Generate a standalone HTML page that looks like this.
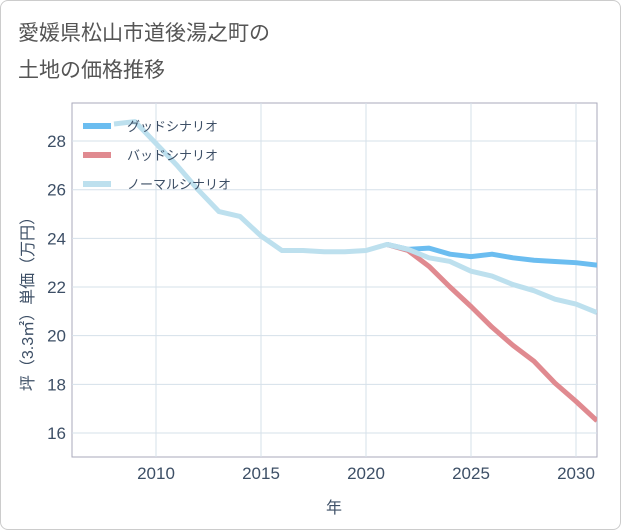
<!DOCTYPE html>
<html><head><meta charset="utf-8"><style>
body{margin:0;background:#fff;font-family:"Liberation Sans","Noto Sans CJK JP",sans-serif}
#wrap{position:relative;width:619px;height:528px;border:1px solid #ccc;border-radius:8px;background:#fff}
</style></head><body>
<div id="wrap">
<svg id="svg" width="621" height="530" style="position:absolute;left:-1px;top:-1px">
<text x="18" y="40" font-size="21" fill="#555">愛媛県松山市道後湯之町の</text>
<text x="18" y="77" font-size="21" fill="#555">土地の価格推移</text>
<g id="plot"></g>
</svg></div>
<script>
const years=[2008,2009,2010,2011,2012,2013,2014,2015,2016,2017,2018,2019,2020,2021,2022,2023,2024,2025,2026,2027,2028,2029,2030,2031];
const normal=[28.7,28.8,27.9,27.0,26.0,25.1,24.9,24.1,23.5,23.5,23.45,23.45,23.5,23.75,23.55,23.2,23.05,22.65,22.45,22.1,21.85,21.5,21.3,20.95];
const goodYears=[2021,2022,2023,2024,2025,2026,2027,2028,2029,2030,2031];
const good=[23.75,23.55,23.6,23.35,23.25,23.35,23.2,23.1,23.05,23.0,22.9];
const bad=[23.75,23.5,22.85,22.0,21.2,20.35,19.6,18.95,18.05,17.3,16.5];
const xTicks=[2010,2015,2020,2025,2030];
const yTicks=[16,18,20,22,24,26,28];
const L=72,R=597,T=103,B=457;
const x=v=>L+(v-2006)*(R-L)/25;
const y=v=>433-(v-16)*24.33;
const NS="http://www.w3.org/2000/svg",g=document.getElementById('plot');
function el(t,a,txt){const e=document.createElementNS(NS,t);for(const k in a)e.setAttribute(k,a[k]);if(txt)e.textContent=txt;g.appendChild(e);return e;}
const frame=el('rect',{x:L,y:T,width:R-L,height:B-T,fill:'#fff',stroke:'#aab','stroke-width':1});

xTicks.forEach(v=>{const l=el('line',{x1:x(v),x2:x(v),y1:T,y2:B,stroke:'#d5e0ea'});
const t=el('text',{x:x(v),y:479,'font-size':17,fill:'#3d4f66','text-anchor':'middle'},String(v));});
yTicks.forEach(v=>{const l=el('line',{x1:L,x2:R,y1:y(v),y2:y(v),stroke:'#d5e0ea'});
const t=el('text',{x:66,y:y(v)+6,'font-size':17,fill:'#3d4f66','text-anchor':'end'},String(v));});
const xt=el('text',{x:334,y:513,'font-size':16,fill:'#3d4f66','text-anchor':'middle'},'年');
const yt=el('text',{x:0,y:0,'font-size':16,fill:'#3d4f66','text-anchor':'middle',transform:'translate(33,300) rotate(-90)'},'坪（3.3㎡）単価（万円）');
const clip=document.createElementNS(NS,'clipPath');clip.id='c';const cr=document.createElementNS(NS,'rect');cr.setAttribute('x',L);cr.setAttribute('y',T);cr.setAttribute('width',R-L);cr.setAttribute('height',B-T);clip.appendChild(cr);g.appendChild(clip);
function line(xs,vs,c,name){const p=el('polyline',{points:xs.map((v,i)=>x(v)+','+y(vs[i])).join(' '),fill:'none',stroke:c,'stroke-width':5,'stroke-linejoin':'round','clip-path':'url(#c)'});}
line(goodYears,bad,'#e08a90','bad-scenario-line');
line(goodYears,good,'#6bbdf0','good-scenario-line');
line(years,normal,'#bde0ee','normal-scenario-line');
[['グッドシナリオ','#6bbdf0'],['バッドシナリオ','#e08a90'],['ノーマルシナリオ','#bde0ee']].forEach((d,i)=>{const yy=126+i*29;
const l=el('line',{x1:83,x2:111,y1:yy,y2:yy,stroke:d[1],'stroke-width':6});
const t=el('text',{x:127,y:yy+5,'font-size':13,fill:'#3d4f66'},d[0]);});
</script></body></html>
